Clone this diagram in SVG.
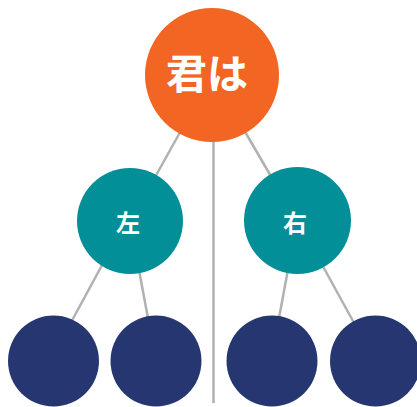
<svg xmlns="http://www.w3.org/2000/svg" width="417" height="407" viewBox="0 0 417 407">
<style>
.edge{stroke:#b1b1b3;stroke-width:2.5;fill:none}
.root{fill:#f26522}
.mid{fill:#038f97}
.leaf{fill:#263671}
.lbl{fill:#ffffff;font-family:"Noto Sans CJK JP","Noto Sans CJK SC",sans-serif;font-weight:bold;text-anchor:middle;dominant-baseline:central}
</style>
<rect width="417" height="407" fill="#ffffff"/>
<g id="connectors">
<line class="edge" x1="213.5" y1="120" x2="213.5" y2="403"/>
<line class="edge" x1="212" y1="75" x2="130" y2="222"/>
<line class="edge" x1="212" y1="75" x2="297" y2="221"/>
<line class="edge" x1="126" y1="221" x2="50" y2="361"/>
<line class="edge" x1="130" y1="222" x2="156" y2="361"/>
<line class="edge" x1="297" y1="221" x2="271" y2="361"/>
<line class="edge" x1="298" y1="221" x2="375" y2="361"/>
</g>
<g id="node-root"><circle class="root" cx="212" cy="75" r="67"/><text class="lbl" x="207" y="71" font-size="41">君は</text></g>
<g id="node-left"><circle class="mid" cx="130" cy="221" r="53"/><text class="lbl" x="128" y="221" font-size="24">左</text></g>
<g id="node-right"><circle class="mid" cx="297.5" cy="220.5" r="53.5"/><text class="lbl" x="295" y="221" font-size="24">右</text></g>
<g id="leaf-1"><circle class="leaf" cx="53.5" cy="361" r="45.5"/></g>
<g id="leaf-2"><circle class="leaf" cx="156" cy="361" r="45.5"/></g>
<g id="leaf-3"><circle class="leaf" cx="272" cy="361" r="45.5"/></g>
<g id="leaf-4"><circle class="leaf" cx="375.5" cy="361" r="45.5"/></g>
</svg>
